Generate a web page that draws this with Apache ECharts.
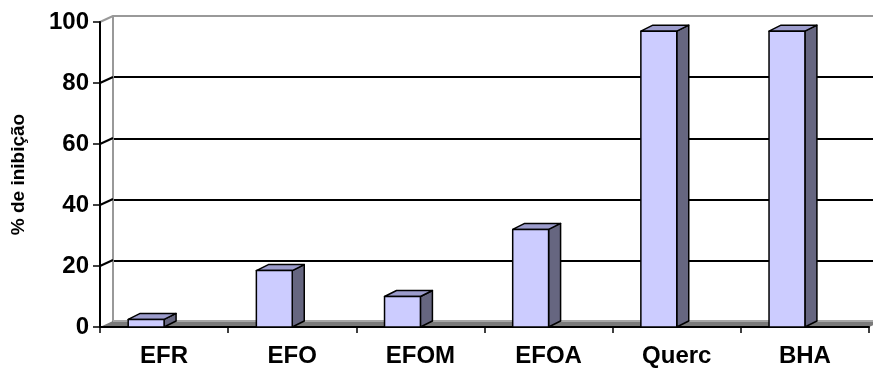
<!DOCTYPE html>
<html>
<head>
<meta charset="utf-8">
<script src="https://cdn.jsdelivr.net/npm/echarts@6/dist/echarts.min.js"></script>
<style>
html,body{margin:0;padding:0;background:#fff;}
#chart{width:873px;height:368px;}
</style>
</head>
<body>
<div id="chart"></div>
<script>
var categories = ['EFR', 'EFO', 'EFOM', 'EFOA', 'Querc', 'BHA'];
var inhibition = [2.5, 18.5, 10, 32, 97, 97];
var yTicks = [0, 20, 40, 60, 80, 100];
var yTitle = '% de inibição';

var DX = 13, DY = -6;      // depth offset of back wall
var BDX = 12, BDY = -6;    // depth of bars
var FONT = 'Liberation Sans, Arial, sans-serif';

var chart = echarts.init(document.getElementById('chart'), null, {renderer: 'canvas'});

function wallLines(params, api) {
  var v = api.value(0);
  var p = api.coord([0, v]);
  var half = api.size([1, 0])[0] / 2;
  var x0 = p[0] - half, y0 = p[1];
  return {
    type: 'line',
    shape: {x1: x0, y1: y0, x2: x0 + DX, y2: y0 + DY},
    style: {stroke: v >= 100 ? '#999999' : '#000000', lineWidth: 2}
  };
}

function floorItem(params, api) {
  var n = categories.length;
  var half = api.size([1, 0])[0] / 2;
  var a = api.coord([0, 0]);
  var b = api.coord([n - 1, 0]);
  var xl = a[0] - half, xr = b[0] + half, y = a[1];
  return {
    type: 'group',
    children: [
      {type: 'polygon', shape: {points: [[xl, y], [xr, y], [xr + DX, y + DY], [xl + DX, y + DY]]},
        style: {fill: '#7a7a7a', stroke: null}},
      {type: 'line', shape: {x1: xl + DX, y1: y + DY, x2: xr + DX, y2: y + DY},
        style: {stroke: '#a6a6a6', lineWidth: 2}}
    ]
  };
}

function barItem(params, api) {
  var i = api.value(0), v = api.value(1);
  var top = api.coord([i, v]);
  var base = api.coord([i, 0]);
  var bw = api.size([1, 0])[0] * 0.28;
  var x1 = top[0] - bw, x2 = top[0];
  var yt = top[1], yb = base[1];
  var st = {stroke: '#000', lineWidth: 1.5, lineJoin: 'round'};
  return {
    type: 'group',
    children: [
      {type: 'polygon', shape: {points: [[x2, yb], [x2 + BDX, yb + BDY], [x2 + BDX, yt + BDY], [x2, yt]]},
        style: Object.assign({fill: '#666680'}, st)},
      {type: 'polygon', shape: {points: [[x1, yt], [x2, yt], [x2 + BDX, yt + BDY], [x1 + BDX, yt + BDY]]},
        style: Object.assign({fill: '#9c9ccc'}, st)},
      {type: 'rect', shape: {x: x1, y: yt, width: x2 - x1, height: yb - yt},
        style: Object.assign({fill: '#ccccff'}, st)}
    ]
  };
}

var option = {
  animation: false,
  backgroundColor: '#ffffff',
  grid: [
    {left: 100, top: 22, width: 769, height: 306},
    {left: 100 + DX, top: 22 + DY, width: 769, height: 306}
  ],
  xAxis: [
    {
      type: 'category', gridIndex: 0, data: categories, z: 3,
      axisLine: {show: true, lineStyle: {color: '#000', width: 2}},
      axisTick: {show: true, length: 6, lineStyle: {color: '#000', width: 1.5}},
      axisLabel: {color: '#000', fontFamily: FONT, fontWeight: 'bold', fontSize: 24, margin: 17}
    },
    {type: 'category', gridIndex: 1, data: categories, show: false}
  ],
  yAxis: [
    {
      type: 'value', gridIndex: 0, min: 0, max: 100, interval: 20, z: 3,
      axisLine: {show: true, lineStyle: {color: '#000', width: 2}},
      axisTick: {show: true, length: 7, lineStyle: {color: '#000', width: 1.5}},
      axisLabel: {color: '#000', fontFamily: FONT, fontWeight: 'bold', fontSize: 24, margin: 11,
        formatter: function (v) { return yTicks.indexOf(v) >= 0 ? String(v) : ''; }},
      splitLine: {show: false},
      name: yTitle, nameLocation: 'middle', nameRotate: 90, nameGap: 72,
      nameTextStyle: {color: '#000', fontFamily: FONT, fontWeight: 'bold', fontSize: 19}
    },
    {
      type: 'value', gridIndex: 1, min: 0, max: 100, interval: 20,
      axisLine: {show: true, lineStyle: {color: '#999999', width: 2}},
      axisTick: {show: false}, axisLabel: {show: false},
      splitLine: {show: true, lineStyle: {color: ['#808080', '#000', '#000', '#000', '#000', '#999999'], width: 2}}
    }
  ],
  series: [
    {
      type: 'custom', xAxisIndex: 0, yAxisIndex: 0, z: 1, silent: true,
      data: yTicks.filter(function (t) { return t > 0; }).map(function (t) { return [t]; }),
      renderItem: wallLines, clip: false
    },
    {
      type: 'custom', xAxisIndex: 0, yAxisIndex: 0, z: 2, silent: true,
      data: [[0]], renderItem: floorItem, clip: false
    },
    {
      type: 'custom', xAxisIndex: 0, yAxisIndex: 0, z: 5,
      data: inhibition.map(function (v, i) { return [i, v]; }),
      renderItem: barItem, clip: false
    }
  ]
};
chart.setOption(option);
</script>
</body>
</html>
